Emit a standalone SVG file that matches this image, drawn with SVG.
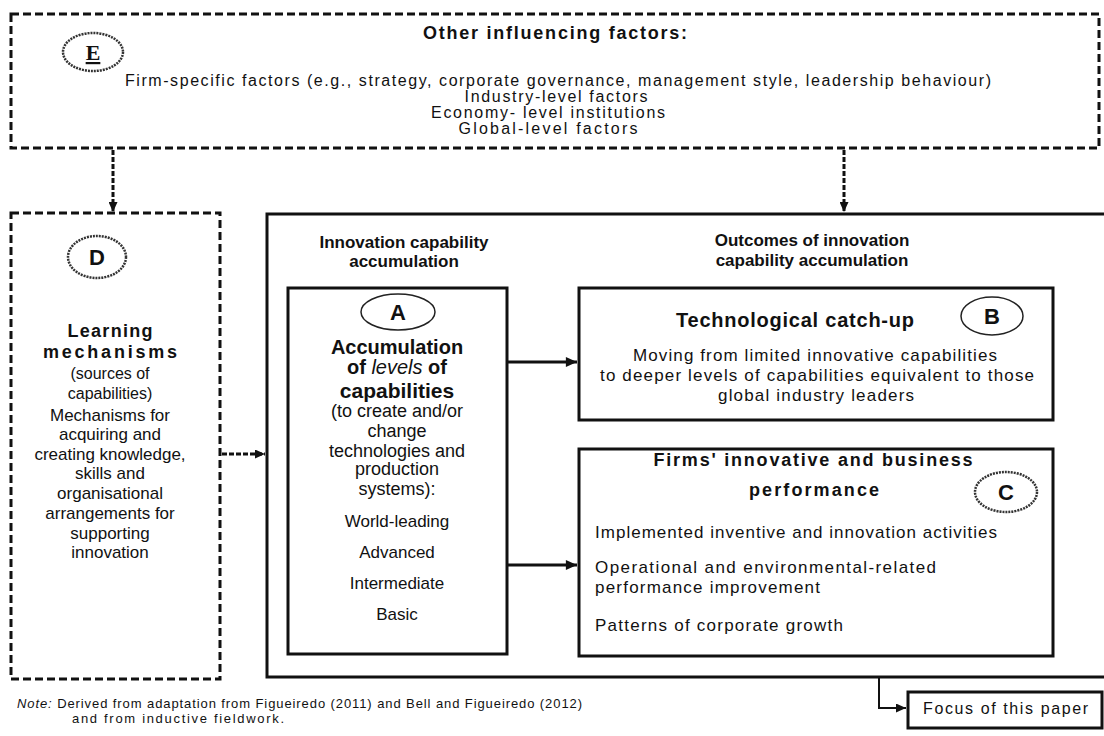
<svg xmlns="http://www.w3.org/2000/svg" width="1104" height="736" viewBox="0 0 1104 736">
<style>
text{font-family:"Liberation Sans",Arial,sans-serif;fill:#111;}
.t{font-size:16px;text-anchor:middle;}
.b{font-weight:bold;}
.l{font-size:17px;}
.c{text-anchor:middle;}
.dash{fill:none;stroke:#111;stroke-width:3;stroke-dasharray:8 4;}
.solid{fill:#fff;stroke:#111;stroke-width:3;}
.lab{fill:none;stroke:#333;stroke-width:2.5;stroke-dasharray:2 1;}
.labs{fill:none;stroke:#222;stroke-width:1.5;}
.conn{fill:none;stroke:#111;stroke-width:3;}
.dconn{fill:none;stroke:#111;stroke-width:3;stroke-dasharray:5 2;}
</style>
<defs>
<marker id="ah" viewBox="0 0 10 9" refX="10" refY="4.5" markerWidth="10" markerHeight="9" markerUnits="userSpaceOnUse" orient="auto">
<path d="M0,0 L10,4.5 L0,9 z" fill="#111"/>
</marker>
<marker id="ahs" viewBox="0 0 10 9" refX="10" refY="4.5" markerWidth="12" markerHeight="10" markerUnits="userSpaceOnUse" orient="auto">
<path d="M0,0 L10,4.5 L0,9 z" fill="#111"/>
</marker>
</defs>
<rect width="1104" height="736" fill="#fff"/>

<g id="nodeE">
<rect class="dash" x="11" y="14" width="1088" height="134"/>
<ellipse class="lab" cx="93" cy="52" rx="30" ry="19"/>
<text x="93" y="60" style="font-family:'Liberation Serif',serif" font-size="22" font-weight="bold" text-anchor="middle" text-decoration="underline">E</text>
<text class="c b" x="555" y="39" font-size="18" textLength="264">Other influencing factors:</text>
<text class="t" x="558" y="86" textLength="866">Firm-specific factors (e.g., strategy, corporate governance, management style, leadership behaviour)</text>
<text class="t" x="556" y="102" textLength="183">Industry-level factors</text>
<text class="t" x="548" y="118" textLength="234">Economy- level institutions</text>
<text class="t" x="548" y="134" textLength="179">Global-level factors</text>
</g>

<g id="nodeD">
<rect class="dash" x="11" y="213" width="209" height="466"/>
<ellipse class="lab" cx="97" cy="257" rx="29" ry="21"/>
<text class="c b" x="97" y="265" font-size="22">D</text>
<text class="c b" x="110" y="337" font-size="18" textLength="85">Learning</text>
<text class="c b" x="110" y="358" font-size="18" textLength="134">mechanisms</text>
<text class="c" x="110" y="379" font-size="16">(sources of</text>
<text class="c" x="110" y="399" font-size="16">capabilities)</text>
<text class="c" x="110" y="421" font-size="17">Mechanisms for</text>
<text class="c" x="110" y="440" font-size="17">acquiring and</text>
<text class="c" x="110" y="460" font-size="17">creating knowledge,</text>
<text class="c" x="110" y="479" font-size="17">skills and</text>
<text class="c" x="110" y="499" font-size="17">organisational</text>
<text class="c" x="110" y="519" font-size="17">arrangements for</text>
<text class="c" x="110" y="539" font-size="17">supporting</text>
<text class="c" x="110" y="558" font-size="17">innovation</text>
</g>

<g id="main">
<rect class="solid" x="267" y="214" width="850" height="463"/>
<text class="c b" x="404" y="248" font-size="17">Innovation capability</text>
<text class="c b" x="404" y="267" font-size="17">accumulation</text>
<text class="c b" x="812" y="246" font-size="17">Outcomes of innovation</text>
<text class="c b" x="812" y="266" font-size="17">capability accumulation</text>
</g>

<g id="nodeA">
<rect class="solid" x="288" y="288" width="219" height="366"/>
<ellipse class="labs" cx="398" cy="312" rx="37" ry="18"/>
<text class="c b" x="398" y="320" font-size="22">A</text>
<text class="c b" x="397" y="354" font-size="20">Accumulation</text>
<text class="c b" x="397" y="374" font-size="20">of <tspan font-style="italic" font-weight="normal">levels</tspan> of</text>
<text class="c b" x="397" y="398" font-size="21">capabilities</text>
<text class="c" x="397" y="417" font-size="18">(to create and/or</text>
<text class="c" x="397" y="437" font-size="18">change</text>
<text class="c" x="397" y="457" font-size="18">technologies and</text>
<text class="c" x="397" y="475" font-size="18">production</text>
<text class="c" x="397" y="495" font-size="18">systems):</text>
<text class="c" x="397" y="527" font-size="17">World-leading</text>
<text class="c" x="397" y="558" font-size="17">Advanced</text>
<text class="c" x="397" y="589" font-size="17">Intermediate</text>
<text class="c" x="397" y="620" font-size="17">Basic</text>
</g>

<g id="nodeB">
<rect class="solid" x="579" y="288" width="474" height="132"/>
<text class="c" x="795" y="327" font-size="20" font-weight="bold" textLength="238">Technological  catch-up</text>
<ellipse class="labs" cx="992" cy="316" rx="31" ry="19"/>
<text class="c b" x="992" y="324" font-size="22">B</text>
<text class="c l" x="815" y="361" textLength="364">Moving from limited innovative capabilities</text>
<text class="c l" x="817" y="381" textLength="434">to deeper levels of capabilities equivalent to those</text>
<text class="c l" x="816" y="401" textLength="196">global industry leaders</text>
</g>

<g id="nodeC">
<rect class="solid" x="579" y="449" width="474" height="207"/>
<text class="c b" x="813" y="466" font-size="18" textLength="319">Firms' innovative and business</text>
<text class="c b" x="814" y="496" font-size="18" textLength="130">performance</text>
<ellipse class="lab" cx="1006" cy="492" rx="31" ry="20"/>
<text class="c b" x="1006" y="500" font-size="22">C</text>
<text class="l" x="595" y="538" textLength="402">Implemented inventive and innovation activities</text>
<text class="l" x="595" y="573" textLength="341">Operational and environmental-related</text>
<text class="l" x="595" y="593" textLength="225">performance improvement</text>
<text class="l" x="595" y="631" textLength="248">Patterns of corporate growth</text>
</g>

<g id="focus">
<rect fill="#fff" stroke="#111" stroke-width="3" x="908" y="692" width="194" height="36"/>
<text x="923" y="714" font-size="16" textLength="165">Focus of this paper</text>
</g>

<g id="note">
<text x="17" y="708" font-size="13" textLength="565"><tspan font-style="italic">Note:</tspan> Derived from adaptation from Figueiredo (2011) and Bell and Figueiredo (2012)</text>
<text x="72" y="723" font-size="13" textLength="212">and from inductive fieldwork.</text>
</g>

<g id="connectors">
<line class="dconn" x1="113" y1="150" x2="113" y2="212" marker-end="url(#ah)"/>
<line class="dconn" x1="844" y1="150" x2="844" y2="212" marker-end="url(#ah)"/>
<line class="dconn" x1="222" y1="454" x2="265" y2="454" marker-end="url(#ah)"/>
<line class="conn" x1="508" y1="362" x2="577" y2="362" marker-end="url(#ahs)"/>
<line class="conn" x1="508" y1="565" x2="577" y2="565" marker-end="url(#ahs)"/>
<path d="M879,678 V708 H906" fill="none" stroke="#111" stroke-width="2" marker-end="url(#ah)"/>
</g>
</svg>
